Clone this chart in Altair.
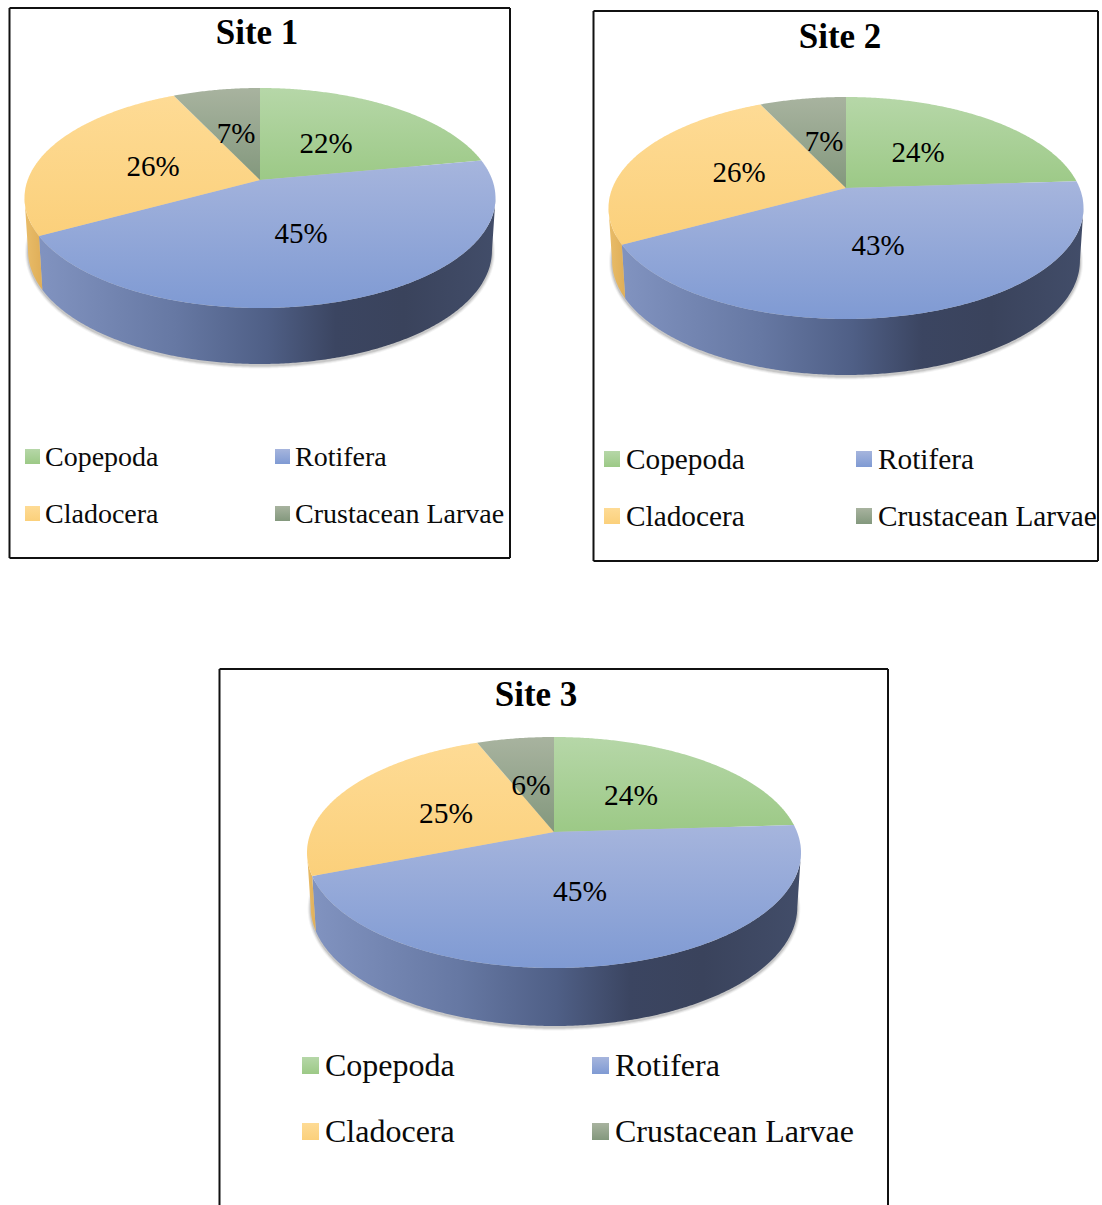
import math
import altair as alt
import pandas as pd

# Zooplankton composition by site (percent of individuals)
GROUPS = ["Copepoda", "Rotifera", "Cladocera", "Crustacean Larvae"]
SITE_1 = [22, 45, 26, 7]
SITE_2 = [24, 43, 26, 7]
SITE_3 = [24, 45, 25, 6]

W, H = 1102, 1205

# Top-face colours of each group, far edge to near edge
TOP_STOPS = {
    "Copepoda": ("#b6d7a8", "#9cc986"),
    "Rotifera": ("#a6b5dd", "#7f9ad3"),
    "Cladocera": ("#fedb95", "#fbd07b"),
    "Crustacean Larvae": ("#a8b39f", "#83987d"),
}
# Side-wall colours, left to right
WALL_STOPS = {
    "Copepoda": [(0, "#7fa86b"), (1, "#4e6a42")],
    "Rotifera": [(0, "#8193c0"), (0.3, "#6678a3"), (0.5, "#4f5f86"), (0.65, "#3b4561"),
                 (0.8, "#3a435c"), (1, "#424d69")],
    "Cladocera": [(0, "#e9bd6a"), (1, "#dfae58")],
    "Crustacean Larvae": [(0, "#76866f"), (1, "#5f6f5a")],
}

# Layout of each panel: frame, pie geometry, label placement
PANELS = [
    dict(title="Site 1", shares=SITE_1, title_x=257, title_y=44, title_size=35,
         frame=(9.5, 8, 510, 558), closed=True,
         cx=260, half_w=235.5, apex=180, up=92, down=128, wall_bottom=364,
         labels=[(326, 153), (301, 243), (153, 176), (236, 143)], label_size=29,
         swatch=15, swatch_x=(25, 275), text_x=(45, 295),
         swatch_y=(449, 506), text_y=(466, 523), legend_size=28),
    dict(title="Site 2", shares=SITE_2, title_x=840, title_y=48, title_size=35,
         frame=(593.5, 11, 1098, 561), closed=True,
         cx=846, half_w=237.5, apex=188, up=91, down=131, wall_bottom=375,
         labels=[(918, 162), (878, 255), (739, 182), (824, 151)], label_size=29,
         swatch=16, swatch_x=(604, 856), text_x=(626, 878),
         swatch_y=(451, 508), text_y=(469, 526), legend_size=29.3),
    dict(title="Site 3", shares=SITE_3, title_x=536, title_y=706, title_size=35,
         frame=(219.5, 669, 888, 1205), closed=False,
         cx=554, half_w=247, apex=832, up=95, down=136, wall_bottom=1026,
         labels=[(631, 805), (580, 901), (446, 823), (531, 795)], label_size=29.5,
         swatch=17, swatch_x=(302, 592), text_x=(325, 615),
         swatch_y=(1057, 1123), text_y=(1076, 1142), legend_size=32),
]

# Legend grid: column and row index of each group
LEGEND_CELLS = [(0, 0), (1, 0), (0, 1), (1, 1)]

X = alt.X("x:Q", scale=alt.Scale(domain=[0, W], nice=False, zero=False), axis=None)
Y = alt.Y("y:Q", scale=alt.Scale(domain=[H, 0], nice=False, zero=False), axis=None)
X2, Y2 = alt.X2("x2:Q"), alt.Y2("y2:Q")


def rim(panel, lower=False):
    """Perspective projection of the pie's circular rim: clockwise degrees from 12 o'clock -> page."""
    ratio = panel["down"] / panel["up"]
    k = (ratio - 1) / (ratio + 1)
    s = panel["up"] * (1 + k)
    r = panel["half_w"] * math.sqrt(1 - k * k)
    ay = panel["apex"]
    if lower:
        r *= 0.985
        s *= 1.03
        ay = panel["wall_bottom"] - s / (1 - k)

    def point(deg):
        t = math.radians(deg)
        u, v = math.sin(t), math.cos(t)
        w = 1 + k * v
        return [panel["cx"] + r * u / w, ay - s * v / w]

    return point, k


def arc(point, a, b):
    n = max(2, int(abs(b - a) * 2))
    return [point(a + (b - a) * i / n) for i in range(n + 1)]


def polygon_layer(ring, **mark):
    ring = ring + [ring[0]]
    feature = {"type": "Feature", "properties": {},
               "geometry": {"type": "Polygon", "coordinates": [ring]}}
    return (alt.Chart(alt.Data(values=[feature])).mark_geoshape(**mark)
            .project(type="identity", scale=1, translate=[0, 0]))


def vertical(stops):
    return alt.Gradient(gradient="linear", x1=0, y1=0, x2=0, y2=1,
                        stops=[alt.GradientStop(offset=0, color=stops[0]),
                               alt.GradientStop(offset=1, color=stops[1])])


def horizontal(stops):
    return alt.Gradient(gradient="linear", x1=0, y1=0, x2=1, y2=0,
                        stops=[alt.GradientStop(offset=o, color=c) for o, c in stops])


layers = []

# Panel frames
frame_rows = []
for p in PANELS:
    x0, y0, x1, y1 = p["frame"]
    frame_rows += [dict(x=x0, x2=x1, y=y0, y2=y0),
                   dict(x=x0, x2=x0, y=y0, y2=y1),
                   dict(x=x1, x2=x1, y=y0, y2=y1)]
    if p["closed"]:
        frame_rows.append(dict(x=x0, x2=x1, y=y1, y2=y1))
layers.append(alt.Chart(pd.DataFrame(frame_rows)).mark_rule(color="#111111", strokeWidth=2)
              .encode(x=X, x2=X2, y=Y, y2=Y2))

# Pies: soft ground shadow, walls, then the top faces
for p in PANELS:
    top, k = rim(p)
    low, _ = rim(p, lower=True)
    right_extreme = math.degrees(math.acos(-k))
    left_extreme = 360 - right_extreme

    shadow = arc(low, 0, 360)
    shadow = [[x, y + 1.5] for x, y in shadow]
    for width, alpha in [(6, 0.08), (4, 0.14), (2, 0.24)]:
        layers.append(polygon_layer(shadow, fill="#777777", stroke="#777777",
                                    strokeWidth=width, opacity=alpha))

    start = 0.0
    spans = []
    for group, share in zip(GROUPS, p["shares"]):
        end = start + share * 3.6
        spans.append((group, start, end))
        start = end

    for group, a, b in spans:
        a_w, b_w = max(a, right_extreme), min(b, left_extreme)
        if a_w < b_w:
            ring = arc(top, a_w, b_w) + arc(low, b_w, a_w)
            layers.append(polygon_layer(ring, fill=horizontal(WALL_STOPS[group]), stroke="transparent"))

    for group, a, b in spans:
        ring = [[p["cx"], p["apex"]]] + arc(top, a, b)
        layers.append(polygon_layer(ring, fill=vertical(TOP_STOPS[group]), stroke="transparent"))

# Legend swatches
for p in PANELS:
    for group, (col, row) in zip(GROUPS, LEGEND_CELLS):
        x0, y0 = p["swatch_x"][col], p["swatch_y"][row]
        df = pd.DataFrame([dict(x=x0, x2=x0 + p["swatch"], y=y0, y2=y0 + p["swatch"])])
        layers.append(alt.Chart(df).mark_rect(fill=vertical(TOP_STOPS[group]))
                      .encode(x=X, x2=X2, y=Y, y2=Y2))

# All text, one layer per style
for p in PANELS:
    title_df = pd.DataFrame([dict(x=p["title_x"], y=p["title_y"], t=p["title"])])
    layers.append(alt.Chart(title_df).mark_text(font="Liberation Serif", fontWeight="bold",
                                                fontSize=p["title_size"], align="center",
                                                baseline="alphabetic", color="black")
                  .encode(x=X, y=Y, text="t:N"))

    pct_df = pd.DataFrame([dict(x=x, y=y, t=f"{v}%") for (x, y), v in zip(p["labels"], p["shares"])])
    layers.append(alt.Chart(pct_df).mark_text(font="Liberation Serif", fontSize=p["label_size"],
                                              align="center", baseline="alphabetic", color="black")
                  .encode(x=X, y=Y, text="t:N"))

    leg_df = pd.DataFrame([dict(x=p["text_x"][c], y=p["text_y"][r], t=g)
                           for g, (c, r) in zip(GROUPS, LEGEND_CELLS)])
    layers.append(alt.Chart(leg_df).mark_text(font="Liberation Serif", fontSize=p["legend_size"],
                                              align="left", baseline="alphabetic", color="#0a0a0a")
                  .encode(x=X, y=Y, text="t:N"))

chart = (
    alt.layer(*layers)
    .properties(width=W, height=H, padding=0, background="white",
                autosize=alt.AutoSizeParams(type="none"))
    .configure_view(stroke=None)
)

chart.save("out.html", embed_options={"renderer": "svg", "actions": False})
